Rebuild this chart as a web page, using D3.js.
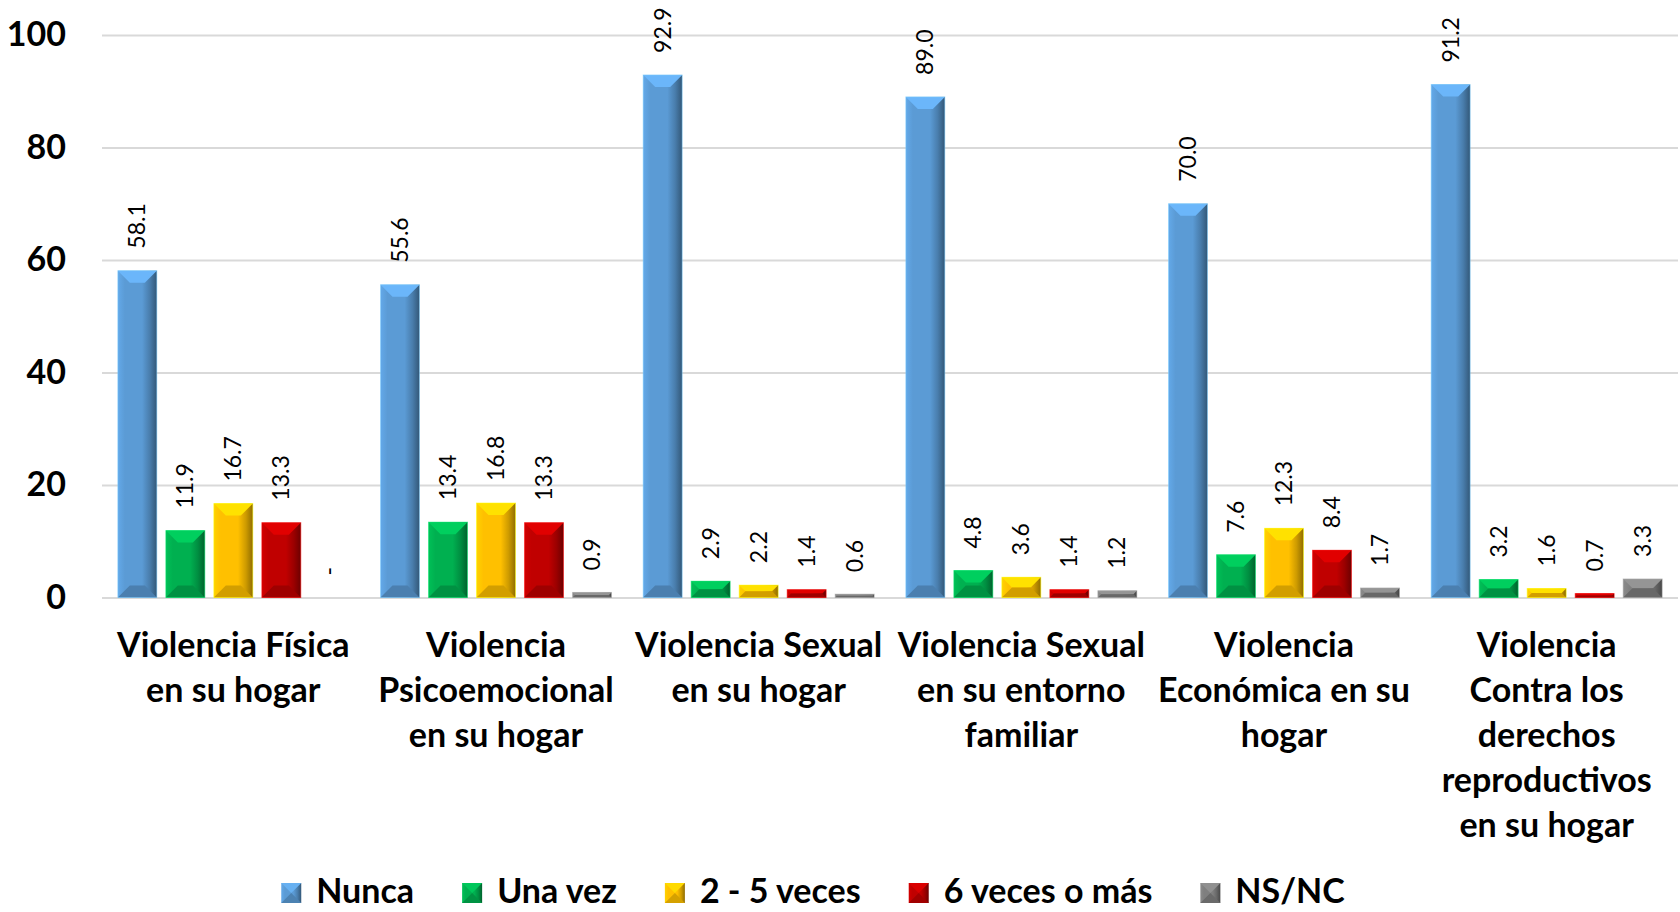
<!DOCTYPE html>
<html>
<head>
<meta charset="utf-8">
<script src="https://cdn.jsdelivr.net/npm/d3@7"></script>
<style>
  body { margin: 0; background: #fff; }
  text { font-family: Lato, "Open Sans", sans-serif; }
</style>
</head>
<body>
<script>
// chart data
var categories = [
    ["Violencia Física", "en su hogar"],
    ["Violencia", "Psicoemocional", "en su hogar"],
    ["Violencia Sexual", "en su hogar"],
    ["Violencia Sexual", "en su entorno", "familiar"],
    ["Violencia", "Económica en su", "hogar"],
    ["Violencia", "Contra los", "derechos", "reproductivos", "en su hogar"]
];
var seriesNames = ["Nunca", "Una vez", "2 - 5 veces", "6 veces o más", "NS/NC"];
var nunca     = [58.1, 55.6, 92.9, 89.0, 70.0, 91.2];
var unaVez    = [11.9, 13.4, 2.9, 4.8, 7.6, 3.2];
var dosCinco  = [16.7, 16.8, 2.2, 3.6, 12.3, 1.6];
var seisOMas  = [13.3, 13.3, 1.4, 1.4, 8.4, 0.7];
var nsnc      = [0, 0.9, 0.6, 1.2, 1.7, 3.3];
var yTicks = [0, 20, 40, 60, 80, 100];

var seriesValues = [nunca, unaVez, dosCinco, seisOMas, nsnc];
var colors = ["#5b9bd5", "#00b050", "#ffc000", "#c00000", "#7f7f7f"];

var totalWidth = 1680, totalHeight = 912;
var margin = {top: 35, right: 2, bottom: 314.5, left: 102};
var width = totalWidth - margin.left - margin.right,
    height = totalHeight - margin.top - margin.bottom;

var svg = d3.select("body").append("svg")
    .attr("width", totalWidth)
    .attr("height", totalHeight);

// side shading gradients for the bevelled bars
var defs = svg.append("defs");
colors.forEach(function (c, i) {
    var base = d3.color(c);
    var grad = defs.append("linearGradient").attr("id", "side" + i)
        .attr("x1", "0").attr("x2", "1").attr("y1", "0").attr("y2", "0");
    grad.append("stop").attr("offset", "0%").attr("stop-color", base.brighter(0.25));
    grad.append("stop").attr("offset", "18%").attr("stop-color", base);
    grad.append("stop").attr("offset", "62%").attr("stop-color", base);
    grad.append("stop").attr("offset", "82%").attr("stop-color", base.darker(0.6));
    grad.append("stop").attr("offset", "100%").attr("stop-color", base.darker(1.6));
});

var x0 = d3.scaleBand()
    .domain(d3.range(categories.length))
    .range([0, width])
    .padding(0);

var x1 = d3.scaleBand()
    .domain(d3.range(seriesNames.length))
    .range([0, x0.bandwidth()])
    .paddingInner(0.1875)
    .paddingOuter(0.33);

var y = d3.scaleLinear()
    .domain([0, 100])
    .range([height, 0]);

var g = svg.append("g")
    .attr("transform", "translate(" + margin.left + "," + margin.top + ")");

// gridlines
g.append("g")
    .attr("class", "grid")
    .call(d3.axisLeft(y).tickValues(yTicks).tickSize(-width).tickFormat(""))
    .call(function (s) {
        s.select(".domain").remove();
        s.selectAll("line").attr("stroke", "#d9d9d9").attr("stroke-width", 2);
    });

// y axis labels
g.append("g")
    .call(d3.axisLeft(y).tickValues(yTicks).tickSize(0).tickPadding(36))
    .call(function (s) {
        s.select(".domain").remove();
        s.selectAll("text")
            .attr("font-family", "Lato, sans-serif")
            .attr("font-weight", "bold")
            .attr("font-size", 34)
            .attr("fill", "#000");
    });

// flatten data
var plotData = [];
categories.forEach(function (c, ci) {
    seriesValues.forEach(function (vals, si) {
        plotData.push({ci: ci, si: si, value: vals[ci]});
    });
});

var bars = g.selectAll(".bar")
    .data(plotData)
    .enter()
    .append("g")
    .attr("class", "bar")
    .attr("transform", function (d) { return "translate(" + (x0(d.ci) + x1(d.si)) + ",0)"; });

var bw = x1.bandwidth();

bars.filter(function (d) { return d.value > 0; }).each(function (d) {
    var sel = d3.select(this);
    var top = y(d.value), bot = y(0), h = bot - top;
    var b = Math.min(12, h / 2);
    var base = d3.color(colors[d.si]);
    sel.append("rect")
        .attr("x", 0).attr("y", top)
        .attr("width", bw).attr("height", h)
        .attr("fill", "url(#side" + d.si + ")");
    // top bevel
    sel.append("path")
        .attr("d", "M0," + top + "L" + bw + "," + top + "L" + (bw - b) + "," + (top + b) + "L" + b + "," + (top + b) + "Z")
        .attr("fill", base.brighter(0.45));
    // bottom bevel
    sel.append("path")
        .attr("d", "M0," + bot + "L" + bw + "," + bot + "L" + (bw - b) + "," + (bot - b) + "L" + b + "," + (bot - b) + "Z")
        .attr("fill", base.darker(0.55));
    sel.append("rect")
        .attr("x", 0).attr("y", top)
        .attr("width", bw).attr("height", h)
        .attr("fill", "none")
        .attr("stroke", base.brighter(0.8))
        .attr("stroke-opacity", 0.5)
        .attr("stroke-width", 1);
});

// value labels
bars.append("text")
    .attr("transform", function (d) {
        return "translate(" + (bw / 2 + 8) + "," + (y(d.value) - 22) + ") rotate(-90)";
    })
    .attr("font-size", 23)
    .attr("fill", "#000")
    .text(function (d) { return d.value > 0 ? d3.format(".1f")(d.value) : "-"; });

// category labels
var catLabels = g.selectAll(".cat")
    .data(categories)
    .enter()
    .append("text")
    .attr("class", "cat")
    .attr("x", function (d, i) { return x0(i) + x0.bandwidth() / 2; })
    .attr("y", 622)
    .attr("text-anchor", "middle")
    .attr("font-size", 34)
    .attr("font-weight", "bold")
    .attr("fill", "#000");

catLabels.selectAll("tspan")
    .data(function (d) { return d; })
    .enter()
    .append("tspan")
    .attr("x", function () { return d3.select(this.parentNode).attr("x"); })
    .attr("dy", function (d, i) { return i === 0 ? 0 : 45; })
    .text(function (d) { return d; });

// legend
var legend = svg.append("g").attr("class", "legend");
var items = legend.selectAll("g")
    .data(seriesNames)
    .enter()
    .append("g");

items.append("text")
    .attr("x", 35)
    .attr("y", 903)
    .attr("font-size", 34)
    .attr("font-weight", "bold")
    .attr("fill", "#000")
    .text(function (d) { return d; });

items.each(function (d, i) {
    var sel = d3.select(this);
    var base = d3.color(colors[i]);
    var s = 20, x = 0, t = 883;
    sel.append("rect").attr("x", x).attr("y", t).attr("width", s).attr("height", s)
        .attr("fill", "url(#side" + i + ")");
    sel.append("path")
        .attr("d", "M" + x + "," + t + "L" + (x + s) + "," + t + "L" + (x + s / 2) + "," + (t + s / 2) + "Z")
        .attr("fill", base.brighter(0.35));
    sel.append("path")
        .attr("d", "M" + x + "," + (t + s) + "L" + (x + s) + "," + (t + s) + "L" + (x + s / 2) + "," + (t + s / 2) + "Z")
        .attr("fill", base.darker(0.5));
});

var widths = [];
items.select("text").each(function () { widths.push(this.getComputedTextLength()); });
var gap = 48;
var total = d3.sum(widths) + widths.length * 35 + (widths.length - 1) * gap;
var lx = 813 - total / 2;
items.attr("transform", function (d, i) {
    var pos = lx;
    lx += 35 + widths[i] + gap;
    return "translate(" + pos + ",0)";
});
</script>
</body>
</html>
